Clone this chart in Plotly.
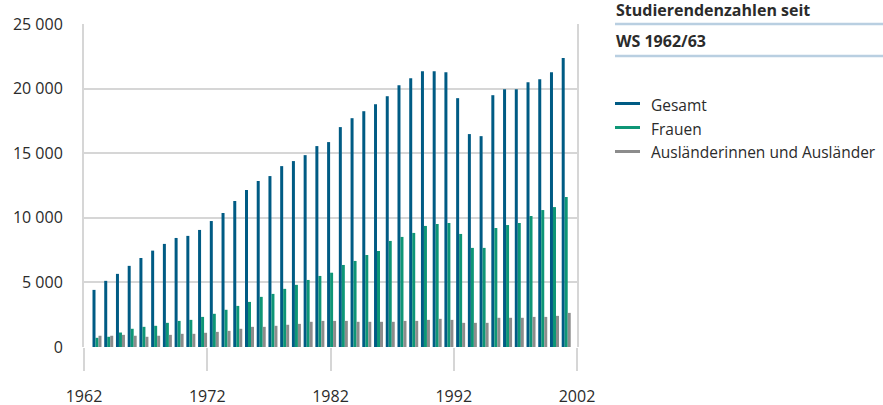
import plotly.graph_objects as go

# ---- data ----
semester = [f"{y}/{(y + 1) % 100:02d}" for y in range(1962, 2003)]
gesamt = [4420, 5120, 5660, 6280, 6890, 7460, 7980, 8440, 8600, 9060,
          9750, 10370, 11300, 12150, 12850, 13230, 14000, 14390, 14850, 15550,
          15860, 17020, 17710, 18250, 18790, 19410, 20260, 20810, 21350, 21350,
          21270, 19260, 16480, 16320, 19490, 19950, 19950, 20490, 20720, 21270,
          22360]
frauen = [710, 790, 1120, 1410, 1560, 1640, 1870, 2020, 2100, 2330,
          2570, 2880, 3180, 3490, 3880, 4110, 4500, 4810, 5190, 5500,
          5750, 6350, 6660, 7120, 7430, 8210, 8520, 8830, 9370, 9520,
          9600, 8750, 7670, 7670, 9210, 9440, 9600, 10140, 10600, 10830,
          11610]
auslaender = [870, 870, 940, 870, 790, 870, 940, 1020, 1020, 1100,
              1170, 1250, 1410, 1560, 1560, 1640, 1720, 1790, 1950, 2020,
              2020, 2020, 1950, 1950, 1950, 1950, 2020, 2020, 2100, 2180,
              2100, 1870, 1870, 1870, 2260, 2260, 2260, 2330, 2330, 2410,
              2640]
series_names = ["Gesamt", "Frauen", "Ausländerinnen und Ausländer"]
year_ticks = [1962, 1972, 1982, 1992, 2002]
year_labels = ["1962", "1972", "1982", "1992", "2002"]
y_ticks = [0, 5000, 10000, 15000, 20000, 25000]
title_lines = ["Studierendenzahlen seit", "WS 1962/63"]

# ---- style ----
colors = ["#005b84", "#0e9676", "#8c8c8c"]
grid = "#d6d6d6"
rule = "#b9cfe1"
txt = "#2b2b2b"
FONT = "Open Sans"

W, H = 883, 405
L, R, T, B = 84, 577, 24, 347


def px(x):
    return (x - L) / (R - L)


def py(y):
    return (B - y) / (B - T)


fig = go.Figure()
for name, vals, col in zip(series_names, [gesamt, frauen, auslaender], colors):
    fig.add_trace(go.Bar(x=semester, y=vals, name=name, marker_color=col,
                         marker_line_width=0, showlegend=False))
# anchor trace for the year axis
fig.add_trace(go.Scatter(x=[None], y=[None], xaxis="x2", showlegend=False,
                         hoverinfo="skip"))

fig.update_layout(
    width=W, height=H,
    margin=dict(l=L, r=W - R, t=T, b=H - B, autoexpand=False),
    paper_bgcolor="white", plot_bgcolor="white",
    barmode="group", bargap=0.233, bargroupgap=0,
    separators=", ",
    font=dict(family=FONT, size=16, color=txt),
    xaxis=dict(type="category", range=[-1.108, 40.92], visible=False,
               showgrid=False, automargin=False),
    xaxis2=dict(overlaying="x", anchor="y", side="bottom", type="linear",
                range=[1962, 2002], tickvals=year_ticks, ticktext=year_labels,
                ticks="outside", ticklen=23, tickwidth=2, tickcolor=grid,
                showgrid=False, zeroline=False, showline=False,
                ticklabelstandoff=12, automargin=False,
                tickfont=dict(family=FONT, size=16, color=txt)),
    yaxis=dict(range=[0, 25000], tickvals=y_ticks, tickformat=",d",
               showgrid=True, gridcolor=grid, gridwidth=2, zeroline=False,
               showline=True, mirror=True, linecolor=grid, linewidth=2,
               ticks="", ticklabelstandoff=16, automargin=False,
               tickfont=dict(family=FONT, size=16, color=txt)),
)

shapes = []
for yy in [24, 56]:
    shapes.append(dict(type="line", xref="paper", yref="paper",
                       x0=px(615), x1=px(883), y0=py(yy), y1=py(yy),
                       line=dict(color=rule, width=2.5)))
leg_y = [103.5, 127.5, 151.5]
for yy, col in zip(leg_y, colors):
    shapes.append(dict(type="line", xref="paper", yref="paper",
                       x0=px(615), x1=px(640), y0=py(yy), y1=py(yy),
                       line=dict(color=col, width=3)))
fig.update_layout(shapes=shapes)

ann = []
for t, yy in zip(title_lines, [10, 41]):
    ann.append(dict(text=f"<b>{t}</b>", xref="paper", yref="paper",
                    x=px(614), y=py(yy), xanchor="left", yanchor="middle",
                    showarrow=False, font=dict(family=FONT, size=16, color=txt)))
for name, yy in zip(series_names, [105, 129, 152]):
    ann.append(dict(text=name, xref="paper", yref="paper",
                    x=px(649), y=py(yy), xanchor="left", yanchor="middle",
                    showarrow=False, font=dict(family=FONT, size=15.5, color=txt)))
fig.update_layout(annotations=ann)

fig.write_html(
    "out.html",
    config={"displayModeBar": False, "staticPlot": True},
    post_script="document.body.style.margin='0';"
                "document.body.style.padding='0';"
                "document.body.style.overflow='hidden';",
)
